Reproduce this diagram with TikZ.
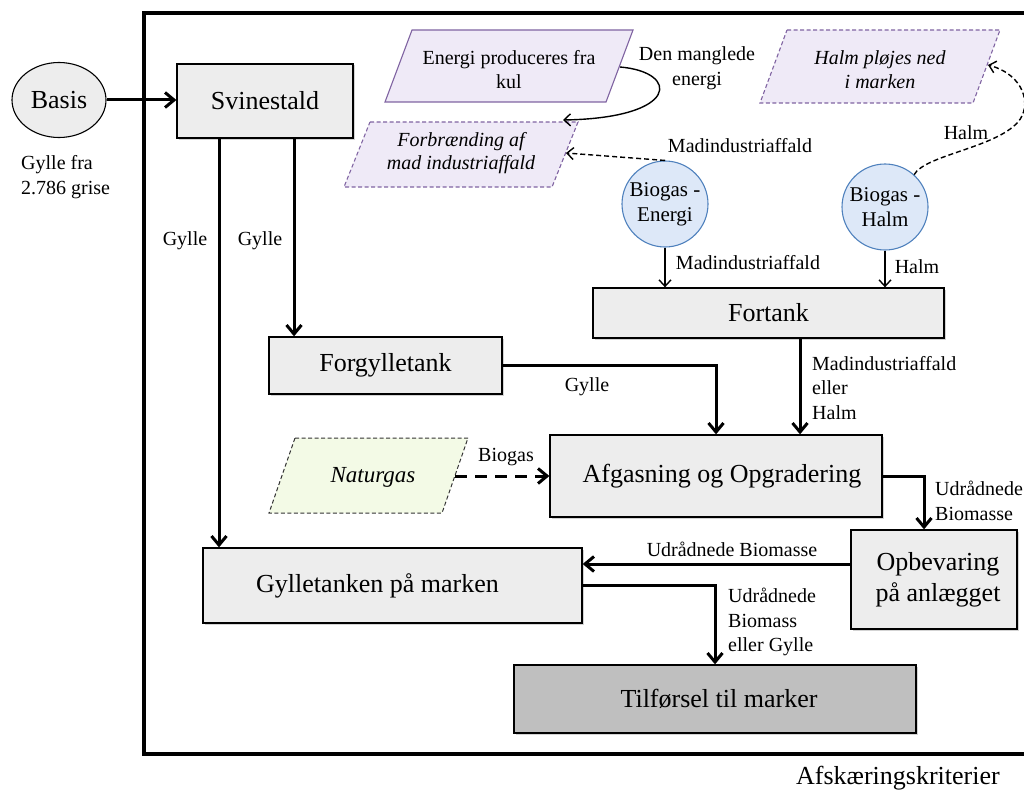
\documentclass[tikz,border=0pt]{standalone}
\usepackage{fontspec}
\setmainfont{Liberation Serif}
\usetikzlibrary{arrows.meta,shapes.geometric,shadows}

\definecolor{boxgray}{HTML}{EDEDED}
\definecolor{darkbox}{HTML}{BFBFBF}
\definecolor{lav}{HTML}{EFEAF7}
\definecolor{purp}{HTML}{8064A2}
\definecolor{cblue}{HTML}{DDE8F8}
\definecolor{bblue}{HTML}{4F81BD}
\definecolor{lgreen}{HTML}{F3FAE6}

\newcommand\fsz[2]{\fontsize{#1}{#2}\selectfont}

\begin{document}
\begin{tikzpicture}[x=1pt,y=-1pt,
  box/.style={draw=black, line width=1.3pt, fill=boxgray, rectangle, inner sep=0pt,
    font=\fsz{26}{31}, align=center,
    drop shadow={shadow xshift=1.5pt,shadow yshift=-1.5pt,opacity=0.35}},
  bubble/.style={circle, draw=bblue, line width=1.1pt, fill=cblue, minimum size=86pt,
    inner sep=0pt, font=\fsz{21}{25}, align=center},
  pgsolid/.style={draw=purp, line width=1.1pt, fill=lav},
  pgdash/.style={draw=purp, line width=1.1pt, fill=lav, dash pattern=on 4pt off 2.5pt},
  pggreen/.style={draw=black!80, line width=1pt, fill=lgreen, dash pattern=on 4pt off 2.5pt},
  ptext/.style={inner sep=0pt, font=\fsz{20}{24}, align=center},
  lab/.style={inner sep=0pt, font=\fsz{20}{24.5}, align=left},
  thickarr/.style={line width=3pt, -{Straight Barb[length=9pt,width=15pt]}},
  thinarr/.style={line width=1.4pt, -{Straight Barb[length=6.5pt,width=12pt]}},
  thindash/.style={thinarr, dash pattern=on 5pt off 3pt},
  thickdash/.style={thickarr, dash pattern=on 12pt off 8pt}
]
\useasboundingbox (0,0) rectangle (1024,789);

% outer frame
\draw[line width=3.5pt] (1030,13) -- (144,13) -- (144,754) -- (1030,754);

% parallelograms
\path[pgsolid] (412,30) -- (633,30) -- (606,102) -- (385,102) -- cycle;
\path[pgdash] (370,122) -- (578,122) -- (552,187) -- (344,187) -- cycle;
\path[pgdash] (787,30) -- (1000,30) -- (973,103) -- (760,103) -- cycle;
\path[pggreen] (295,438) -- (468,438) -- (442,513) -- (269,513) -- cycle;

\node[ptext] (energi) at (509,70) {Energi produceres fra\\kul};
\node[ptext, font=\itshape\fsz{20}{23.5}] (forbr) at (461,153) {Forbrænding af\\mad industriaffald};
\node[ptext, font=\itshape\fsz{20}{24}] (halmpl) at (880,70) {Halm pløjes ned\\i marken};
\node[ptext, font=\itshape\fsz{23}{27}] (natur) at (373,477) {Naturgas};

% connection points on parallelograms
\coordinate (eR) at (620,67);
\coordinate (fTR) at (563,120);
\coordinate (fR) at (566,153);
\coordinate (hR) at (988,65);
\coordinate (nR) at (455,476);

% helper coordinates
\coordinate (xa) at (219,0);
\coordinate (xb) at (294,0);
\coordinate (xc) at (716,0);
\coordinate (xd) at (800,0);
\coordinate (xe) at (924,0);
\coordinate (yf) at (0,564);

% main nodes
\node[ellipse, draw=black, line width=1.1pt, fill=boxgray, minimum width=94pt,
  minimum height=75pt, inner sep=0pt, font=\fsz{26}{30}] (basis) at (59,100) {Basis};
\node[box, minimum width=176pt, minimum height=74pt] (svin) at (265,101) {Svinestald};
\node[box, minimum width=233pt, minimum height=57pt] (forg) at (385.5,365.5) {Forgylletank};
\node[box, minimum width=351pt, minimum height=50pt] (fort) at (768.5,313) {Fortank};
\node[box, minimum width=332pt, minimum height=82pt] (afg) at (716,476) {\hspace*{12pt}Afgasning og Opgradering};
\node[box, minimum width=166pt, minimum height=99pt] (opb) at (934,579.5) {\hspace*{8pt}Opbevaring\\\hspace*{8pt}på anlægget};
\node[box, minimum width=379pt, minimum height=75pt] (gyl) at (392.5,585.5) {Gylletanken på marken\hspace*{30pt}};
\node[box, fill=darkbox, minimum width=402pt, minimum height=68pt] (til) at (715,699) {\hspace*{8pt}Tilførsel til marker};

\node[bubble] (benergi) at (665,204) {Biogas -\\Energi};
\node[bubble] (bhalm) at (885,207) {Biogas -\\Halm};

% connectors
\draw[thickarr] (basis.east) -- (basis.east -| svin.west);
\draw[thickarr] (svin.south -| xa) -- (gyl.north -| xa);
\draw[thickarr] (svin.south -| xb) -- (forg.north -| xb);
\draw[thickarr] (forg.east) -| (afg.north -| xc);
\draw[thickarr] (fort.south -| xd) -- (afg.north -| xd);
\draw[thinarr] (benergi.south) -- (benergi.south |- fort.north);
\draw[thinarr] (bhalm.south) -- (bhalm.south |- fort.north);
\draw[thickdash] (nR) -- (afg.west |- nR);
\draw[thickarr] (afg.east) -| (opb.north -| xe);
\draw[thickarr] (opb.west |- yf) -- (gyl.east |- yf);
\draw[thickarr] (gyl.east) -| (til.north);

\draw[thinarr] (eR) .. controls (680,72) and (680,118) .. (fTR);
\draw[thindash] (benergi.north) -- (fR);
\draw[thindash] (bhalm.48) .. controls (925,155) and (995,148) .. (1018,122)
  .. controls (1032,106) and (1025,75) .. (hR);

% labels
\node[lab, anchor=west] (lgrise) at (21,177) {Gylle fra\\2.786 grise};
\node[lab] (lg1) at (185,241) {Gylle};
\node[lab] (lg2) at (260,241) {Gylle};
\node[lab] (lg3) at (587,387) {Gylle};
\node[lab] (lbio) at (506,457) {Biogas};
\node[lab, align=center] (lden) at (697,68) {Den manglede\\energi};
\node[lab] (lmad1) at (740,146) {Madindustriaffald};
\node[lab] (lmad2) at (748,263) {Madindustriaffald};
\node[lab] (lhalm1) at (966,133) {Halm};
\node[lab] (lhalm2) at (917,267) {Halm};
\node[lab, anchor=west] (lmadh) at (812,388) {Madindustriaffald\\eller\\Halm};
\node[lab, anchor=west] (lud1) at (935,501) {Udrådnede\\Biomasse};
\node[lab] (lud2) at (732,549) {Udrådnede Biomasse};
\node[lab, anchor=west] (lud3) at (728,622) {Udrådnede\\Biomass\\eller Gylle};
\node[inner sep=0pt, font=\fsz{26}{30}] (afsk) at (898,778) {Afskæringskriterier};
\end{tikzpicture}
\end{document}
